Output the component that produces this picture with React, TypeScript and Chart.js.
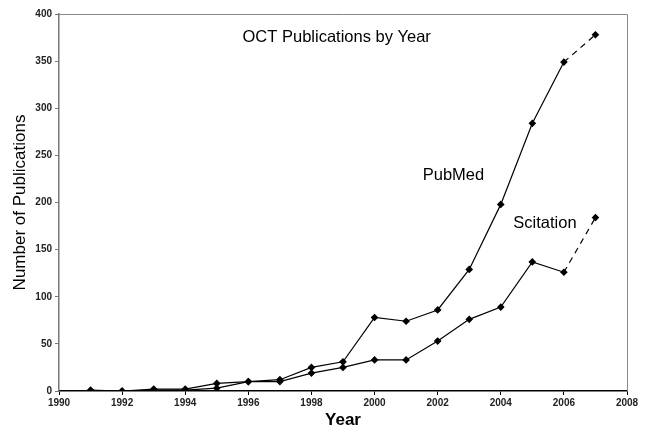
import React, { useEffect, useRef } from "react";
import { Chart, registerables } from "chart.js";

Chart.register(...registerables);

const years = [1991, 1992, 1993, 1994, 1995, 1996, 1997, 1998, 1999, 2000, 2001, 2002, 2003, 2004, 2005, 2006, 2007];
const pubmed = [1, 0, 2, 2, 8, 10, 12, 25, 31, 78, 74, 86, 129, 198, 284, 349, 378];
const scitation = [0, 0, 1, 1, 3, 10, 10, 19, 25, 33, 33, 53, 76, 89, 137, 126, 184];
const chartTitle = "OCT Publications by Year";
const seriesLabels = ["PubMed", "Scitation"];
const xTitle = "Year";
const yTitle = "Number of Publications";

const FONT = "'Liberation Sans', Arial, sans-serif";

const annotations = {
  id: "annotations",
  afterDraw(chart: any) {
    const { ctx, chartArea } = chart;
    const x = chart.scales.x;
    const y = chart.scales.y;
    ctx.save();
    // plot border top & right
    ctx.strokeStyle = "#888";
    ctx.lineWidth = 1;
    ctx.beginPath();
    ctx.moveTo(chartArea.left, chartArea.top + 0.5);
    ctx.lineTo(chartArea.right + 0.5, chartArea.top + 0.5);
    ctx.lineTo(chartArea.right + 0.5, chartArea.bottom);
    ctx.stroke();
    ctx.fillStyle = "#000";
    ctx.textAlign = "center";
    ctx.textBaseline = "middle";
    ctx.font = `16.5px ${FONT}`;
    ctx.fillText(chartTitle, x.getPixelForValue(1998.8), y.getPixelForValue(375));
    ctx.fillText(seriesLabels[0], x.getPixelForValue(2002.5), y.getPixelForValue(229));
    ctx.fillText(seriesLabels[1], x.getPixelForValue(2005.4), y.getPixelForValue(178));
    ctx.restore();
  },
};

export default function App() {
  const ref = useRef<HTMLCanvasElement>(null);
  useEffect(() => {
    if (!ref.current) return;
    const dash = (c: any) => (c.p1DataIndex === years.length - 1 ? [6, 5] : undefined);
    const mk = (label: string, vals: number[]) => ({
      label,
      data: years.map((yr, i) => ({ x: yr, y: vals[i] })),
      borderColor: "#000",
      backgroundColor: "#000",
      borderWidth: 1.2,
      pointStyle: "rectRot" as const,
      pointRadius: 3,
      tension: 0,
      segment: { borderDash: dash },
    });
    const chart = new Chart(ref.current, {
      type: "line",
      data: { datasets: [mk(seriesLabels[0], pubmed), mk(seriesLabels[1], scitation)] },
      plugins: [annotations],
      options: {
        animation: false,
        responsive: false,
        maintainAspectRatio: false,
        layout: { padding: { top: 14, right: 19, left: 0, bottom: 0 } },
        plugins: { legend: { display: false }, tooltip: { enabled: false }, title: { display: false } },
        scales: {
          x: {
            type: "linear",
            min: 1990,
            max: 2008,
            ticks: { stepSize: 2, color: "#222", font: { family: FONT, size: 10, weight: "bold" }, padding: 2, callback: (v: any) => String(v) },
            grid: { drawOnChartArea: false, drawTicks: true, tickLength: 4, color: "#000" },
            border: { display: true, color: "#000", width: 1.5 },
            title: { display: true, text: xTitle, color: "#000", font: { family: FONT, size: 17, weight: "bold" }, padding: { top: 2, bottom: 0 } },
            afterFit: (s: any) => { s.height = 40; },
          },
          y: {
            min: 0,
            max: 400,
            ticks: { stepSize: 50, color: "#222", font: { family: FONT, size: 10, weight: "bold" }, padding: 3 },
            grid: { drawOnChartArea: false, drawTicks: true, tickLength: 4, color: "#777" },
            border: { display: true, color: "#777", width: 1.5 },
            title: { display: true, text: yTitle, color: "#000", font: { family: FONT, size: 17 }, padding: { top: 10, bottom: 0 } },
            afterFit: (s: any) => { s.width = 59; },
          },
        },
      },
    });
    return () => chart.destroy();
  }, []);
  return (
    <div style={{ position: "absolute", left: 0, top: 0, width: 646, height: 431, background: "#fff" }}>
      <canvas ref={ref} width={646} height={431} style={{ width: 646, height: 431 }} />
    </div>
  );
}
